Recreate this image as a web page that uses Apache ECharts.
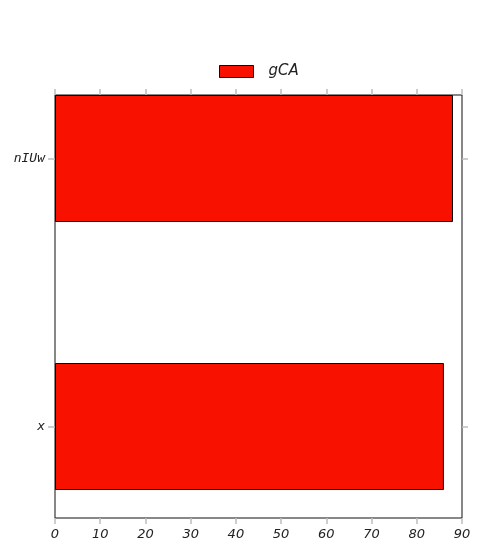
<!DOCTYPE html>
<html><head><meta charset="utf-8">
<script src="https://cdn.jsdelivr.net/npm/echarts@6/dist/echarts.min.js"></script>
<style>html,body{margin:0;padding:0;background:#fff}#c{width:483px;height:552px}</style>
</head><body><div id="c"></div>
<script>
const categories = ['x', 'nIUw'];
const seriesName = 'gCA';
const values = [86, 88];
const xTicks = [0, 10, 20, 30, 40, 50, 60, 70, 80, 90];

const chart = echarts.init(document.getElementById('c'), null, {renderer: 'canvas'});
const tickStyle = {color: '#bdbdbd', width: 1.5};
chart.setOption({
  animation: false,
  backgroundColor: '#fff',
  legend: {
    left: 219, top: 64, padding: 0,
    itemWidth: 34, itemHeight: 12,
    icon: 'rect',
    data: [{name: seriesName, itemStyle: {color: '#f91100', borderColor: '#000', borderWidth: 1}}],
    textStyle: {fontFamily: 'DejaVu Sans', fontStyle: 'italic', fontSize: 15, color: '#222', padding: [2, 0, 0, 10]}
  },
  grid: [
    {left: 55, right: 21, top: 158.5, bottom: 125.5, show: false},
    {left: 55, right: 21, top: 95, bottom: 34, show: true, borderColor: '#111', borderWidth: 1, backgroundColor: 'transparent'}
  ],
  xAxis: [
    {gridIndex: 0, type: 'value', min: 0, max: 90, show: false},
    {gridIndex: 1, type: 'value', position: 'bottom', min: xTicks[0], max: xTicks[xTicks.length - 1], interval: 10,
      axisLine: {show: false}, splitLine: {show: false},
      axisTick: {show: true, inside: false, length: 6, lineStyle: tickStyle},
      axisLabel: {margin: 10, fontFamily: 'DejaVu Sans', fontStyle: 'italic', fontSize: 13, color: '#222'}},
    {gridIndex: 1, type: 'value', position: 'top', min: xTicks[0], max: xTicks[xTicks.length - 1], interval: 10,
      axisLine: {show: false}, splitLine: {show: false},
      axisTick: {show: true, inside: false, length: 6, lineStyle: tickStyle},
      axisLabel: {show: false}}
  ],
  yAxis: [
    {gridIndex: 0, type: 'category', data: categories, boundaryGap: false, position: 'left',
      axisLine: {show: false}, splitLine: {show: false},
      axisTick: {show: true, length: 7, lineStyle: tickStyle},
      axisLabel: {margin: 10, fontFamily: 'DejaVu Sans Mono', fontStyle: 'italic', fontSize: 13, color: '#222'}},
    {gridIndex: 0, type: 'category', data: categories, boundaryGap: false, position: 'right',
      axisLine: {show: false}, splitLine: {show: false},
      axisTick: {show: true, length: 6, lineStyle: tickStyle},
      axisLabel: {show: false}},
    {gridIndex: 1, type: 'value', show: false}
  ],
  series: [{
    name: seriesName, type: 'bar', xAxisIndex: 0, yAxisIndex: 0,
    data: values, barWidth: 127, clip: false,
    itemStyle: {color: '#f91100', borderColor: '#000', borderWidth: 1}
  }]
});
</script></body></html>
